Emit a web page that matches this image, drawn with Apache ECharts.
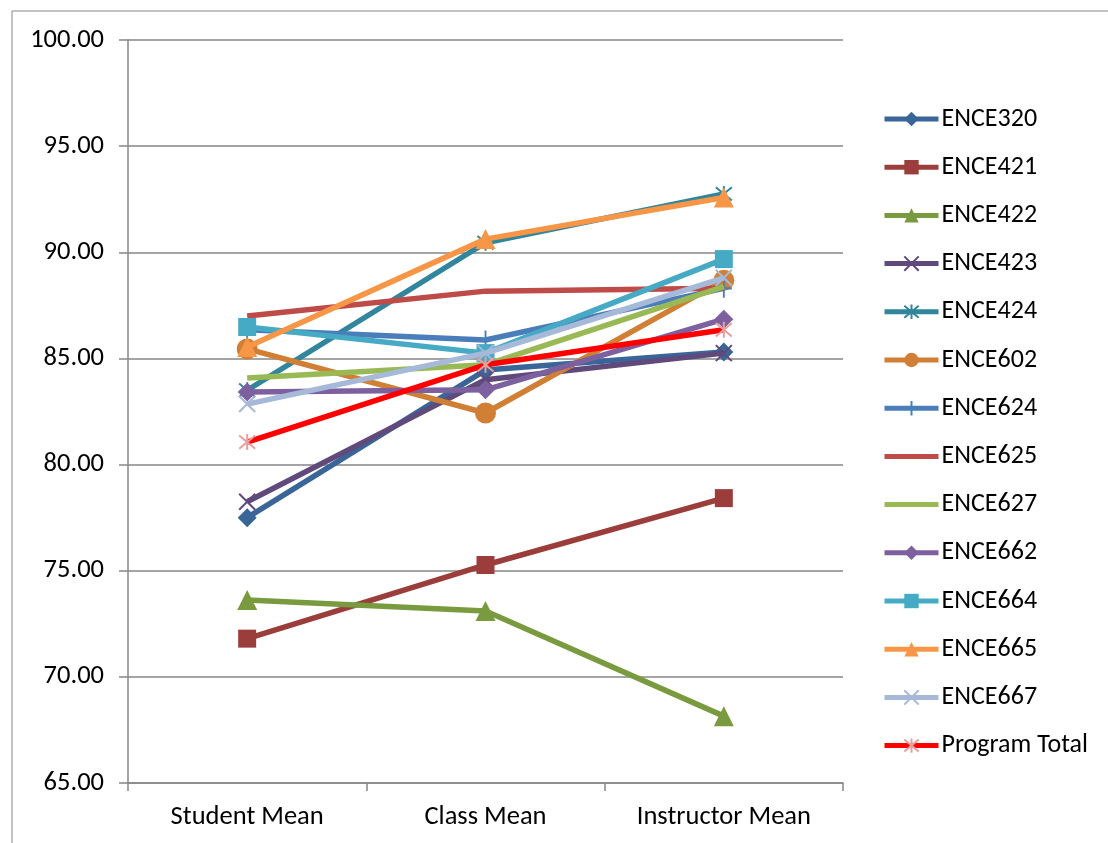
<!DOCTYPE html>
<html><head><meta charset="utf-8">
<script src="https://cdn.jsdelivr.net/npm/echarts@6/dist/echarts.min.js"></script>
<style>html,body{margin:0;padding:0;background:#fff}#c{width:1108px;height:843px}</style>
</head><body><div id="c"></div>
<script>
const categories = ['Student Mean','Class Mean','Instructor Mean'];
const yTicks = [65,70,75,80,85,90,95,100];
const names = ['ENCE320','ENCE421','ENCE422','ENCE423','ENCE424','ENCE602','ENCE624','ENCE625','ENCE627','ENCE662','ENCE664','ENCE665','ENCE667','Program Total'];
const ENCE320 = [77.5, 84.45, 85.3];
const ENCE421 = [71.8, 75.27, 78.42];
const ENCE422 = [73.62, 73.1, 68.15];
const ENCE423 = [78.25, 84.0, 85.25];
const ENCE424 = [83.5, 90.45, 92.75];
const ENCE602 = [85.45, 82.43, 88.68];
const ENCE624 = [86.35, 85.87, 88.3];
const ENCE625 = [87.0, 88.17, 88.3];
const ENCE627 = [84.08, 84.7, 88.38];
const ENCE662 = [83.42, 83.52, 86.85];
const ENCE664 = [86.48, 85.25, 89.68];
const ENCE665 = [85.54, 90.62, 92.58];
const ENCE667 = [82.85, 85.25, 88.8];
const ProgramTotal = [81.06, 84.7, 86.35];
const values = [ENCE320,ENCE421,ENCE422,ENCE423,ENCE424,ENCE602,ENCE624,ENCE625,ENCE627,ENCE662,ENCE664,ENCE665,ENCE667,ProgramTotal];

const lineColors = ['#3A6599','#9B3D3B','#7A9A3F','#5F4A7B','#31859C','#D07F34','#4A7EBB','#BE4B48','#98B954','#7D60A0','#46AAC5','#F79646','#A7B9D9','#FF0000'];
const markColors = ['#3A6599','#9B3D3B','#7A9A3F','#5F4A7B','#31859C','#D07F34','#4A7EBB','#BE4B48','#98B954','#7D60A0','#46AAC5','#F79646','#A7B9D9','#E6A0A0'];
const X = 'path://M0,0L10,10M10,0L0,10';
const STAR = 'path://M0,0L10,10M10,0L0,10M5,-1L5,11';
const PLUS = 'path://M5,0L5,10M4,5L6,5';
const symbols = ['diamond','rect','triangle',X,STAR,'circle',PLUS,'none','none','diamond','rect','triangle',X,STAR];
const sizes = [19,18,20,16,16,21,[16,19],0,0,19,18,20,16,16];
const strokeSym = [false,false,false,true,true,false,true,false,false,false,false,false,true,true];
const FONT = 'Carlito, Lato, "Open Sans", sans-serif';

const series = names.map((n,i)=>({
  name:n, type:'line', data:values[i],
  symbol:symbols[i], symbolSize:sizes[i], showSymbol:symbols[i]!=='none',
  lineStyle:{color:lineColors[i], width: 5.5},
  itemStyle: strokeSym[i] ? {color:markColors[i], borderColor:markColors[i], borderWidth:2} : {color:markColors[i], borderWidth:0},
  z: 2+i,
  animation:false
}));

const legendData = names.map((n,i)=> symbols[i]==='none' ? {name:n, itemStyle:{opacity:0}} : {name:n});

const chart = echarts.init(document.getElementById('c'));
chart.setOption({
  animation:false,
  backgroundColor:'#fff',
  graphic:[
    {type:'line', shape:{x1:12,y1:11,x2:1108,y2:11}, style:{stroke:'#888',lineWidth:1}},
    {type:'line', shape:{x1:12,y1:11,x2:12,y2:843}, style:{stroke:'#888',lineWidth:1}}
  ],
  grid:{left:128, right:265, top:40, bottom:60, containLabel:false},
  legend:{
    orient:'vertical', left:877, top:101, itemGap:22.2, itemWidth:54, itemHeight:18,
    lineStyle:{width:5},
    textStyle:{fontSize:26, color:'#000', fontFamily:FONT, padding:[0,0,0,-2]},
    data:legendData
  },
  xAxis:{
    type:'category', data:categories, boundaryGap:true,
    axisLine:{lineStyle:{color:'#868686', width:1.5}},
    axisTick:{show:true, length:8, lineStyle:{color:'#868686', width:1.5}},
    axisLabel:{fontSize:26.5, color:'#000', margin:21, fontFamily:FONT},
    splitLine:{show:false}
  },
  yAxis:{
    type:'value', min:65, max:100, interval:5,
    axisLine:{show:true, lineStyle:{color:'#868686', width:1.5}},
    axisTick:{show:true, length:9, lineStyle:{color:'#868686', width:1.5}},
    axisLabel:{fontSize:26.5, color:'#000', margin:24, formatter:v=>yTicks.includes(v)?v.toFixed(2):'', fontFamily:FONT},
    splitLine:{show:true, lineStyle:{color:'#868686', width:1.5}}
  },
  series:series
});
</script></body></html>
